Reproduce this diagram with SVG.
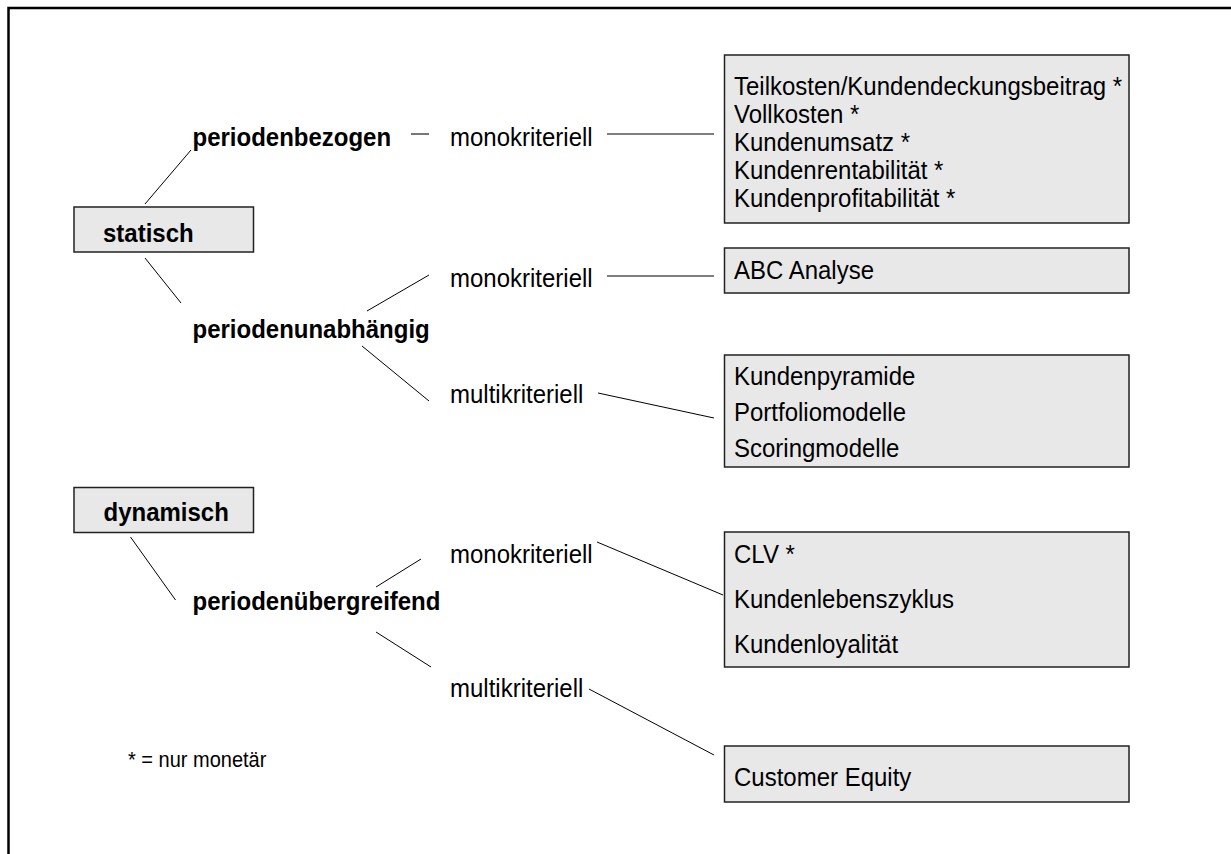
<svg xmlns="http://www.w3.org/2000/svg" width="1231" height="854" viewBox="0 0 1231 854">
<style>
.frame{fill:none;stroke:#000;stroke-width:2.5}
.box{fill:#e8e8e8;stroke:#222;stroke-width:1.5}
.t{font-family:"Liberation Sans",Arial,sans-serif;font-size:24px;fill:#000}
.b{font-weight:bold}
.c{stroke:#000;stroke-width:1;fill:none}
.g{stroke:#555;stroke-width:1.6;fill:none}
.fn{font-family:"Liberation Sans",Arial,sans-serif;font-size:20px;fill:#000}
</style>
<rect width="1231" height="854" fill="#fff"/>
<rect class="frame" x="8.5" y="8" width="1260" height="900"/>
<g id="connectors">
<line class="c" x1="145" y1="204" x2="191" y2="150"/>
<line class="c" x1="145" y1="258" x2="181" y2="303"/>
<line class="g" x1="411" y1="134" x2="429" y2="134"/>
<line class="g" x1="607" y1="134" x2="714" y2="134"/>
<line class="c" x1="367" y1="311" x2="429" y2="275"/>
<line class="g" x1="607" y1="276" x2="714" y2="276"/>
<line class="c" x1="362" y1="346" x2="429" y2="401"/>
<line class="c" x1="598" y1="393" x2="714" y2="418"/>
<line class="c" x1="130.5" y1="537" x2="175.5" y2="600"/>
<line class="c" x1="376" y1="587" x2="421" y2="559"/>
<line class="c" x1="376" y1="632" x2="431" y2="667"/>
<line class="c" x1="597" y1="542" x2="723" y2="595"/>
<line class="c" x1="589" y1="689" x2="714" y2="755"/>
</g>
<g id="statisch">
<rect class="box" x="74" y="207" width="179.5" height="45"/>
<text class="t b" transform="matrix(1,0,0,1.1,103,242)">statisch</text>
</g>
<g id="dynamisch">
<rect class="box" x="74" y="487.5" width="179.5" height="45"/>
<text class="t b" transform="matrix(1,0,0,1.1,103.5,521)">dynamisch</text>
</g>
<g id="periodenbezogen"><text class="t b" transform="matrix(1,0,0,1.1,192.5,146)">periodenbezogen</text></g>
<g id="periodenunabhaengig"><text class="t b" transform="matrix(1,0,0,1.1,192.5,338)">periodenunabhängig</text></g>
<g id="periodenuebergreifend"><text class="t b" transform="matrix(1,0,0,1.1,192.5,609.5)">periodenübergreifend</text></g>
<g id="mono1"><text class="t" transform="matrix(1,0,0,1.1,450,146)">monokriteriell</text></g>
<g id="mono2"><text class="t" transform="matrix(1,0,0,1.1,450,287)">monokriteriell</text></g>
<g id="multi1"><text class="t" transform="matrix(1,0,0,1.1,450,403)">multikriteriell</text></g>
<g id="mono3"><text class="t" transform="matrix(1,0,0,1.1,450,563)">monokriteriell</text></g>
<g id="multi2"><text class="t" transform="matrix(1,0,0,1.1,450,697)">multikriteriell</text></g>
<g id="box1">
<rect class="box" x="724.5" y="55" width="404.5" height="168"/>
<text class="t" transform="matrix(1,0,0,1.1,734,94.5)">Teilkosten/Kundendeckungsbeitrag *</text>
<text class="t" transform="matrix(1,0,0,1.1,734,122.5)">Vollkosten *</text>
<text class="t" transform="matrix(1,0,0,1.1,734,150.5)">Kundenumsatz *</text>
<text class="t" transform="matrix(1,0,0,1.1,734,178.5)">Kundenrentabilität *</text>
<text class="t" transform="matrix(1,0,0,1.1,734,206.5)">Kundenprofitabilität *</text>
</g>
<g id="box2">
<rect class="box" x="724.5" y="248" width="404.5" height="45"/>
<text class="t" transform="matrix(1,0,0,1.1,734,279)">ABC Analyse</text>
</g>
<g id="box3">
<rect class="box" x="724.5" y="355" width="404.5" height="112"/>
<text class="t" transform="matrix(1,0,0,1.1,734,385)">Kundenpyramide</text>
<text class="t" transform="matrix(1,0,0,1.1,734,421)">Portfoliomodelle</text>
<text class="t" transform="matrix(1,0,0,1.1,734,457)">Scoringmodelle</text>
</g>
<g id="box4">
<rect class="box" x="724.5" y="532" width="404.5" height="135"/>
<text class="t" transform="matrix(1,0,0,1.1,734,563)">CLV *</text>
<text class="t" transform="matrix(1,0,0,1.1,734,608)">Kundenlebenszyklus</text>
<text class="t" transform="matrix(1,0,0,1.1,734,653)">Kundenloyalität</text>
</g>
<g id="box5">
<rect class="box" x="724.5" y="746" width="404.5" height="56"/>
<text class="t" transform="matrix(1,0,0,1.1,734,786)">Customer Equity</text>
</g>
<g id="footnote"><text class="fn" transform="matrix(1,0,0,1.1,128,767)">* = nur monetär</text></g>
</svg>
